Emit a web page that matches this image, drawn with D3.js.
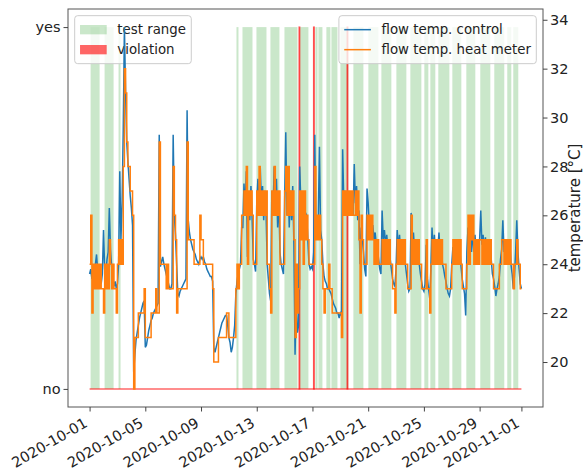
<!DOCTYPE html>
<html>
<head>
<meta charset="utf-8">
<script src="https://cdnjs.cloudflare.com/ajax/libs/d3/7.8.5/d3.min.js"></script>
<style>
body { margin: 0; background: #fff; }
svg { font-family: "DejaVu Sans", sans-serif; display: block; }
</style>
</head>
<body>
<svg id="chart"></svg>
<script>
var width = 583
var height = 470
var margin = {left: 68, right: 40, top: 9, bottom: 63}

// samples every 2 hours from this time on
var startTime = "2020-10-01 00:00"
var stepHours = 2

// flow temp. control (one row = one day)
var flowControl = [
23.6, 23.8, 23.4, 23.9, 23.6, 24.0, 24.4, 23.7, 23.9, 23.4, 23.2, 23.6,
25.4, 23.8, 23.5, 24.2, 24.5, 26.3, 24.6, 23.9, 23.4, 23.1, 23.3, 23.0,
23.2, 24.0, 27.8, 25.0, 26.5, 29.5, 33.7, 31.0, 29.0, 28.2, 27.5, 26.8,
26.3, 25.6, 19.6, 20.3, 20.9, 21.2, 21.5, 21.8, 22.0, 22.2, 22.4, 22.5,
20.6, 20.7, 21.0, 21.3, 21.5, 21.7, 21.8, 22.0, 22.1, 22.2, 22.3, 22.4,
29.3, 23.9, 24.1, 24.3, 24.0, 23.8, 23.6, 23.4, 23.2, 23.0, 23.0, 23.2,
29.3, 26.0, 25.2, 24.0, 22.8, 22.7, 22.9, 23.0, 23.1, 23.2, 23.3, 23.4,
30.3, 25.8, 25.3, 25.0, 24.8, 24.6, 24.5, 24.4, 24.2, 24.1, 24.0, 24.2,
24.3, 24.2, 24.3, 24.1, 24.0, 23.8, 23.7, 23.6, 23.5, 23.5, 23.3, 20.6,
20.4, 20.6, 20.8, 21.0, 21.2, 21.4, 21.6, 21.7, 21.8, 21.9, 21.9, 21.5,
21.0, 20.8, 20.4, 20.6, 21.0, 21.5, 22.8, 23.3, 23.6, 23.8, 24.0, 25.5,
25.5, 27.3, 26.2, 27.8, 24.3, 26.8, 25.8, 27.2, 25.9, 24.2, 24.0, 23.7,
26.5, 27.5, 26.0, 28.0, 26.5, 27.2, 25.8, 27.0, 26.2, 24.0, 23.4, 22.8,
22.5, 27.0, 26.0, 28.0, 26.3, 27.5, 25.5, 26.8, 24.5, 24.0, 23.8, 23.6,
26.5, 29.4, 26.0, 27.5, 25.5, 27.0, 25.8, 27.2, 24.8, 20.3, 22.5, 21.2,
21.5, 28.0, 26.5, 26.3, 26.2, 26.2, 26.1, 26.0, 25.0, 24.0, 23.8, 23.9,
23.8, 24.5, 29.3, 25.0, 25.5, 25.8, 28.8, 25.4, 25.0, 24.0, 23.5, 23.3,
23.2, 23.0, 23.0, 22.9, 22.8, 22.6, 22.4, 22.3, 22.2, 22.0, 22.0, 21.8,
22.0, 21.9, 28.7, 26.5, 27.0, 26.0, 26.8, 26.3, 26.5, 26.0, 26.6, 26.0,
28.1, 26.5, 27.2, 25.8, 26.2, 24.0, 25.5, 25.0, 24.5, 23.8, 23.5, 27.1,
26.5, 25.5, 25.8, 25.2, 25.6, 25.0, 25.3, 24.8, 24.6, 24.2, 23.8, 23.6,
26.2, 25.0, 25.4, 24.8, 25.2, 24.6, 24.9, 24.2, 23.8, 23.4, 23.2, 23.1,
23.8, 25.4, 24.6, 25.2, 24.5, 25.0, 24.3, 24.8, 24.0, 23.6, 23.2, 22.9,
23.0, 26.1, 25.0, 25.3, 24.5, 25.0, 24.3, 24.6, 24.0, 23.6, 23.3, 23.0,
22.9, 23.2, 24.8, 23.4, 23.0, 22.6, 23.8, 25.5, 24.5, 25.2, 24.4, 25.0,
24.6, 25.3, 24.4, 24.8, 24.0, 23.8, 23.5, 23.3, 23.0, 22.8, 22.7, 23.0,
24.0, 24.7, 24.2, 24.8, 24.1, 24.7, 24.0, 24.6, 23.9, 23.4, 23.1, 22.8,
21.9, 24.5, 25.5, 24.6, 25.6, 24.5, 25.4, 24.5, 25.2, 24.5, 25.0, 24.8,
25.0, 26.2, 24.8, 25.2, 24.5, 25.1, 24.4, 25.0, 24.3, 24.8, 24.2, 23.6,
23.4, 23.1, 22.7, 23.0, 23.2, 23.5, 24.2, 24.6, 25.8, 24.5, 25.0, 24.4,
24.8, 24.2, 24.9, 24.0, 23.6, 23.0, 23.5, 24.5, 25.8, 24.5, 23.8, 23.2,
23.0
]

// flow temp. heat meter (1 K resolution)
var flowHeatMeter = [
24, 26, 22, 24, 23, 24, 23, 24, 23, 24, 23, 23,
22, 24, 23, 24, 23, 25, 24, 23, 24, 23, 23, 22,
24, 25, 24, 25, 24, 28, 32, 31, 29, 28, 28, 27,
27, 26, 18.9, 21, 21, 21, 22, 22, 22, 22, 22, 23,
21, 21, 21, 21, 21, 22, 22, 22, 22, 23, 22, 22,
29, 24, 24, 24, 24, 24, 23, 24, 23, 23, 23, 23,
28, 26, 25, 22, 23, 23, 23, 23, 23, 23, 23, 23,
29, 25, 25, 25, 25, 25, 24, 24, 24, 24, 24, 26,
25, 25, 24, 24, 24, 24, 24, 24, 24, 24, 23, 20,
20, 20, 20, 21, 21, 21, 21, 21, 21, 21, 22, 22,
21, 21, 21, 21, 21, 21, 23, 24, 23, 24, 24, 26,
26, 27, 26, 28, 24, 27, 26, 27, 26, 24, 24, 24,
27, 26, 28, 26, 27, 26, 27, 26, 27, 24, 24, 23,
22, 27, 26, 28, 26, 27, 26, 27, 24, 24, 24, 24,
27, 28, 26, 28, 26, 27, 26, 27, 25, 21, 24, 22,
23, 27, 25, 27, 24, 27, 25, 26, 25, 24, 24, 24,
24, 24, 28, 25, 26, 25, 26, 25, 24, 23, 22, 23,
23, 23, 24, 23, 23, 22, 22, 22, 22, 22, 22, 22,
22, 21, 27, 26, 27, 26, 27, 26, 27, 26, 27, 26,
26, 27, 26, 27, 25, 22, 26, 25, 24, 24, 24, 26,
25, 26, 25, 26, 25, 24, 25, 24, 25, 24, 24, 24,
25, 24, 25, 24, 25, 24, 25, 24, 24, 23, 23, 22,
24, 25, 24, 25, 24, 25, 24, 25, 24, 24, 23, 23,
23, 26, 24, 25, 24, 25, 24, 25, 24, 24, 23, 23,
23, 23, 25, 23, 23, 22, 24, 25, 24, 25, 24, 25,
24, 25, 24, 25, 24, 24, 24, 23, 23, 23, 23, 23,
24, 25, 24, 25, 24, 25, 24, 25, 24, 23, 23, 23,
23, 24, 26, 24, 26, 25, 26, 24, 25, 24, 25, 24,
25, 25, 24, 25, 24, 25, 24, 25, 24, 25, 24, 24,
23, 23, 23, 23, 23, 24, 24, 25, 25, 24, 25, 24,
25, 24, 25, 24, 24, 23, 24, 24, 25, 24, 24, 23,
23
]

var testRanges = [
["2020-10-01 01:45", "2020-10-01 17:15"],
["2020-10-02 01:50", "2020-10-02 17:20"],
["2020-10-03 01:55", "2020-10-03 05:20"],
["2020-10-11 13:05", "2020-10-11 16:30"],
["2020-10-11 23:25", "2020-10-12 16:40"],
["2020-10-12 23:30", "2020-10-13 16:45"],
["2020-10-13 23:35", "2020-10-14 15:05"],
["2020-10-14 23:45", "2020-10-15 22:05"],
["2020-10-16 02:30", "2020-10-16 17:00"],
["2020-10-17 05:00", "2020-10-17 08:40"],
["2020-10-17 10:15", "2020-10-17 17:10"],
["2020-10-18 00:00", "2020-10-18 06:55"],
["2020-10-18 08:40", "2020-10-18 19:00"],
["2020-10-19 00:10", "2020-10-19 13:50"],
["2020-10-19 22:30", "2020-10-20 15:45"],
["2020-10-21 00:20", "2020-10-21 17:35"],
["2020-10-21 22:45", "2020-10-22 15:55"],
["2020-10-23 00:35", "2020-10-23 17:45"],
["2020-10-24 00:40", "2020-10-24 19:35"],
["2020-10-25 00:45", "2020-10-25 07:40"],
["2020-10-25 11:05", "2020-10-25 19:40"],
["2020-10-26 00:50", "2020-10-26 19:50"],
["2020-10-27 01:00", "2020-10-27 16:30"],
["2020-10-28 01:05", "2020-10-28 16:35"],
["2020-10-29 01:10", "2020-10-29 18:25"],
["2020-10-30 01:15", "2020-10-30 18:30"],
["2020-10-30 23:40", "2020-10-31 06:35"],
["2020-10-31 10:00", "2020-10-31 18:35"]
]

var violations = [
["2020-10-16 01:00", "2020-10-16 02:00"],
["2020-10-17 02:00", "2020-10-17 03:00"],
["2020-10-19 11:45", "2020-10-19 12:45"]
]

var dateTicks = ["2020-10-01", "2020-10-05", "2020-10-09", "2020-10-13", "2020-10-17",
	"2020-10-21", "2020-10-25", "2020-10-29", "2020-11-01"]
var tempTicks = [20, 22, 24, 26, 28, 30, 32, 34]
var flagTicks = [0, 1]
var flagLabels = ["no", "yes"]

var parseTime = d3.utcParse("%Y-%m-%d %H:%M")
var parseDay = d3.utcParse("%Y-%m-%d")

var t0 = parseTime(startTime)
var times = flowControl.map(function(d, i){
	return d3.utcHour.offset(t0, i * stepHours)
})
var t1 = times[times.length - 1]

var plotLeft = margin.left, plotRight = width - margin.right
var plotTop = margin.top, plotBottom = height - margin.bottom

var pad = (t1 - t0) * 0.05
var x = d3.scaleUtc()
	.domain([new Date(+t0 - pad), new Date(+t1 + pad)])
	.range([plotLeft, plotRight])

var yFlag = d3.scaleLinear().domain([-0.05, 1.05]).range([plotBottom, plotTop])

var allTemps = flowControl.concat(flowHeatMeter)
var tMin = d3.min(allTemps), tMax = d3.max(allTemps)
var tPad = (tMax - tMin) * 0.05
var yTemp = d3.scaleLinear().domain([tMin - tPad, tMax + tPad]).range([plotBottom, plotTop])

var svg = d3.select("#chart")
	.attr("width", width)
	.attr("height", height)

svg.append("defs").append("clipPath")
	.attr("id", "plotclip")
	.append("rect")
	.attr("x", plotLeft).attr("y", plotTop)
	.attr("width", plotRight - plotLeft).attr("height", plotBottom - plotTop)

var plot = svg.append("g").attr("clip-path", "url(#plotclip)")

// test ranges
plot.selectAll("rect.test")
	.data(testRanges)
	.join("rect")
	.attr("class", "test")
	.attr("x", function(d){ return x(parseTime(d[0])) })
	.attr("width", function(d){ return x(parseTime(d[1])) - x(parseTime(d[0])) })
	.attr("y", yFlag(1))
	.attr("height", yFlag(0) - yFlag(1))
	.attr("fill", "#2ca02c")
	.attr("fill-opacity", 0.25)

// violations
plot.selectAll("rect.viol")
	.data(violations)
	.join("rect")
	.attr("class", "viol")
	.attr("x", function(d){ return x(parseTime(d[0])) })
	.attr("width", function(d){ return x(parseTime(d[1])) - x(parseTime(d[0])) })
	.attr("y", yFlag(1))
	.attr("height", yFlag(0) - yFlag(1))
	.attr("fill", "red")
	.attr("fill-opacity", 0.6)
	.attr("stroke", "red")
	.attr("stroke-opacity", 0.6)
	.attr("stroke-width", 1.4)

plot.append("line")
	.attr("x1", x(t0)).attr("x2", x(t1))
	.attr("y1", yFlag(0)).attr("y2", yFlag(0))
	.attr("stroke", "red")
	.attr("stroke-opacity", 0.6)
	.attr("stroke-width", 1.5)

function legend(g, items, x0, anchorRight) {
	var fs = 13.333
	var textW = 0
	var tmp = g.append("text").style("font-size", fs + "px")
	items.forEach(function(it){
		tmp.text(it.label)
		textW = Math.max(textW, tmp.node().getComputedTextLength())
	})
	tmp.remove()
	var w = 0.4 * fs + 2 * fs + 0.8 * fs + textW + 0.4 * fs
	var h = 0.4 * fs * 2 + items.length * fs + (items.length - 1) * 0.5 * fs + 4
	var bx = anchorRight ? x0 - w : x0
	var by = plotTop + 0.5 * fs
	g.append("rect")
		.attr("x", bx).attr("y", by)
		.attr("width", w).attr("height", h)
		.attr("rx", 3)
		.attr("fill", "white").attr("fill-opacity", 0.8)
		.attr("stroke", "#cccccc")
	items.forEach(function(it, i){
		var cy = by + 0.4 * fs + 2 + fs / 2 + i * 1.5 * fs
		var hx = bx + 0.4 * fs
		if (it.type == "patch") {
			g.append("rect")
				.attr("x", hx).attr("y", cy - 0.35 * fs)
				.attr("width", 2 * fs).attr("height", 0.7 * fs)
				.attr("fill", it.color).attr("fill-opacity", it.alpha)
		} else {
			g.append("line")
				.attr("x1", hx).attr("x2", hx + 2 * fs)
				.attr("y1", cy).attr("y2", cy)
				.attr("stroke", it.color).attr("stroke-width", 1.5)
		}
		g.append("text")
			.attr("x", hx + 2.8 * fs).attr("y", cy)
			.attr("dy", "0.36em")
			.style("font-size", fs + "px")
			.attr("fill", "#222")
			.text(it.label)
	})
}

legend(svg.append("g"), [
	{type: "patch", color: "#2ca02c", alpha: 0.25, label: "test range"},
	{type: "patch", color: "red", alpha: 0.6, label: "violation"}
], plotLeft + 6.7, false)

// temperatures on the twin axis
var lines = svg.append("g").attr("clip-path", "url(#plotclip)")

lines.append("path")
	.datum(flowControl)
	.attr("fill", "none")
	.attr("stroke", "#1f77b4")
	.attr("stroke-width", 1.5)
	.attr("d", d3.line()
		.x(function(d, i){ return x(times[i]) })
		.y(function(d){ return yTemp(d) }))

lines.append("path")
	.datum(flowHeatMeter)
	.attr("fill", "none")
	.attr("stroke", "#ff7f0e")
	.attr("stroke-width", 1.5)
	.attr("d", d3.line()
		.curve(d3.curveStepAfter)
		.x(function(d, i){ return x(times[i]) })
		.y(function(d){ return yTemp(d) }))

// frame
svg.append("rect")
	.attr("x", plotLeft).attr("y", plotTop)
	.attr("width", plotRight - plotLeft).attr("height", plotBottom - plotTop)
	.attr("fill", "none")
	.attr("stroke", "#555")
	.attr("stroke-width", 1)

var tickFont = "14.5px"

var gl = svg.append("g")
	.attr("transform", "translate(" + plotLeft + ",0)")
	.call(d3.axisLeft(yFlag).tickValues(flagTicks)
		.tickFormat(function(d, i){ return flagLabels[i] })
		.tickSize(4.5).tickPadding(3))
gl.select(".domain").remove()

var gr = svg.append("g")
	.attr("transform", "translate(" + plotRight + ",0)")
	.call(d3.axisRight(yTemp).tickValues(tempTicks).tickSize(4.5).tickPadding(2.5))
gr.select(".domain").remove()

var gb = svg.append("g")
	.attr("transform", "translate(0," + plotBottom + ")")
	.call(d3.axisBottom(x).tickValues(dateTicks.map(parseDay))
		.tickFormat(d3.utcFormat("%Y-%m-%d")).tickSize(4.5))
gb.select(".domain").remove()
gb.selectAll("text")
	.attr("y", 0).attr("dy", 0)
	.attr("text-anchor", "end")
	.attr("transform", "translate(-1.5,19) rotate(-30)")

svg.selectAll(".tick text")
	.style("font-size", tickFont)
	.style("font-family", "DejaVu Sans")
	.attr("fill", "#222")
svg.selectAll(".tick line").attr("stroke", "#444")

svg.append("text")
	.attr("transform", "translate(580," + ((plotTop + plotBottom) / 2) + ") rotate(-90)")
	.attr("text-anchor", "middle")
	.style("font-size", "15px")
	.attr("fill", "#222")
	.text("temperature [°C]")

legend(svg.append("g"), [
	{type: "line", color: "#1f77b4", label: "flow temp. control"},
	{type: "line", color: "#ff7f0e", label: "flow temp. heat meter"}
], plotRight - 6.7, true)
</script>
</body>
</html>
